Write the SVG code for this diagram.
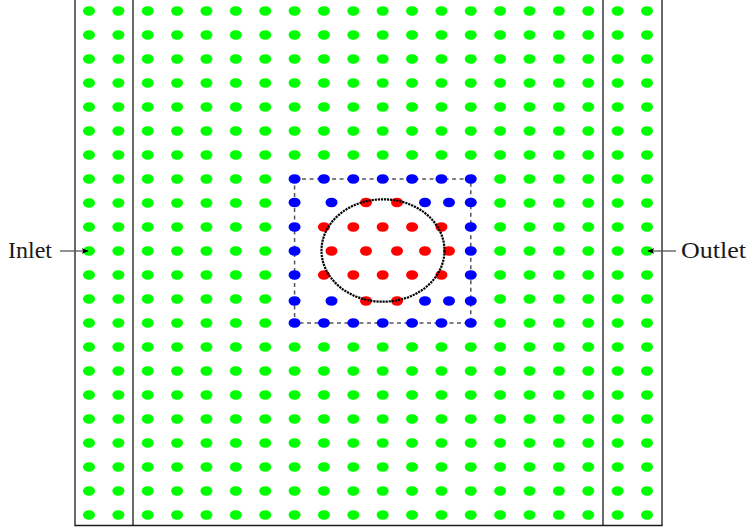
<svg xmlns="http://www.w3.org/2000/svg" xmlns:xlink="http://www.w3.org/1999/xlink" width="748" height="529" viewBox="0 0 748 529">
<style>
.g{fill:#00ff00}
.b{fill:#0000ff}
.r{fill:#ff0000}
.frame{stroke:#1a1a1a;stroke-width:1.3;fill:none}
.lbl{font-family:"Liberation Serif","DejaVu Serif",serif;font-size:23px;fill:#1a1a1a}
.arr{stroke:#555;stroke-width:1.3;fill:none}
</style>
<defs>
<ellipse id="d" rx="6" ry="4.8"/>
<marker id="ah" viewBox="0 0 10 10" refX="9" refY="5" markerWidth="7" markerHeight="7" markerUnits="userSpaceOnUse" orient="auto">
<path d="M0,1 L10,5 L0,9 L2.5,5 Z" fill="#000"/>
</marker>
<g id="row" class="g">
<use href="#d" x="89"/><use href="#d" x="118.37"/><use href="#d" x="147.74"/><use href="#d" x="177.1"/><use href="#d" x="206.47"/><use href="#d" x="235.84"/><use href="#d" x="265.21"/><use href="#d" x="294.58"/><use href="#d" x="323.94"/><use href="#d" x="353.31"/><use href="#d" x="382.68"/><use href="#d" x="412.05"/><use href="#d" x="441.42"/><use href="#d" x="470.78"/><use href="#d" x="500.15"/><use href="#d" x="529.52"/><use href="#d" x="558.89"/><use href="#d" x="588.26"/><use href="#d" x="617.62"/><use href="#d" x="647"/>
</g>
<g id="side" class="g">
<use href="#d" x="89"/><use href="#d" x="118.37"/><use href="#d" x="147.74"/><use href="#d" x="177.1"/><use href="#d" x="206.47"/><use href="#d" x="235.84"/><use href="#d" x="265.21"/><use href="#d" x="500.15"/><use href="#d" x="529.52"/><use href="#d" x="558.89"/><use href="#d" x="588.26"/><use href="#d" x="617.62"/><use href="#d" x="647"/>
</g>
</defs>
<rect width="748" height="529" fill="#fff"/>
<g id="frame" class="frame">
<line x1="75" y1="0" x2="75" y2="525.5"/>
<line x1="133" y1="0" x2="133" y2="525.5"/>
<line x1="603" y1="0" x2="603" y2="525.5"/>
<line x1="662" y1="0" x2="662" y2="525.5"/>
<line x1="74.4" y1="525.5" x2="662.6" y2="525.5"/>
</g>
<g id="box">
<rect x="294.58" y="179" width="176.2" height="144" fill="none" stroke="#555" stroke-width="1.5" stroke-dasharray="4 3.5"/>
</g>
<g id="green-field">
<use href="#row" y="11"/><use href="#row" y="35"/><use href="#row" y="59"/><use href="#row" y="83"/><use href="#row" y="107"/><use href="#row" y="131"/><use href="#row" y="155"/>
<use href="#side" y="179"/><use href="#side" y="203"/><use href="#side" y="227"/><use href="#side" y="251"/><use href="#side" y="275"/><use href="#side" y="299"/><use href="#side" y="323"/>
<use href="#row" y="347"/><use href="#row" y="371"/><use href="#row" y="395"/><use href="#row" y="419"/><use href="#row" y="443"/><use href="#row" y="467"/><use href="#row" y="491"/><use href="#row" y="515"/>
</g>
<g id="blue-boundary" class="b">
<use href="#d" x="294.58" y="179"/><use href="#d" x="323.94" y="179"/><use href="#d" x="353.31" y="179"/><use href="#d" x="382.68" y="179"/><use href="#d" x="412.05" y="179"/><use href="#d" x="441.42" y="179"/><use href="#d" x="470.78" y="179"/>
<use href="#d" x="294.58" y="202.5"/><use href="#d" x="331.5" y="202.5"/><use href="#d" x="425" y="202.5"/><use href="#d" x="449" y="202.5"/><use href="#d" x="470.78" y="202.5"/>
<use href="#d" x="294.58" y="227"/><use href="#d" x="470.78" y="227"/>
<use href="#d" x="294.58" y="251"/><use href="#d" x="470.78" y="251"/>
<use href="#d" x="294.58" y="275"/><use href="#d" x="470.78" y="275"/>
<use href="#d" x="294.58" y="301"/><use href="#d" x="331.5" y="301"/><use href="#d" x="425" y="301"/><use href="#d" x="449" y="301"/><use href="#d" x="470.78" y="301"/>
<use href="#d" x="294.58" y="323"/><use href="#d" x="323.94" y="323"/><use href="#d" x="353.31" y="323"/><use href="#d" x="382.68" y="323"/><use href="#d" x="412.05" y="323"/><use href="#d" x="441.42" y="323"/><use href="#d" x="470.78" y="323"/>
</g>
<g id="red-body" class="r">
<use href="#d" x="366" y="202.5"/><use href="#d" x="397" y="202.5"/>
<use href="#d" x="323.94" y="227"/><use href="#d" x="353.31" y="227"/><use href="#d" x="382.68" y="227"/><use href="#d" x="412.05" y="227"/><use href="#d" x="441.42" y="227"/>
<use href="#d" x="331.5" y="251"/><use href="#d" x="366" y="251"/><use href="#d" x="397" y="251"/><use href="#d" x="425" y="251"/><use href="#d" x="449" y="251"/>
<use href="#d" x="323.94" y="275"/><use href="#d" x="353.31" y="275"/><use href="#d" x="382.68" y="275"/><use href="#d" x="412.05" y="275"/><use href="#d" x="441.42" y="275"/>
<use href="#d" x="366" y="301"/><use href="#d" x="397" y="301"/>
</g>
<g id="cylinder">
<ellipse cx="383" cy="250.5" rx="61.5" ry="51.2" fill="none" stroke="#000" stroke-width="2.2" stroke-dasharray="2.2 0.9"/>
</g>
<g id="connectors">
<line class="arr" x1="60" y1="251" x2="88" y2="251" marker-end="url(#ah)"/>
<line class="arr" x1="676" y1="251" x2="648" y2="251" marker-end="url(#ah)"/>
</g>
<g id="inlet-label"><text class="lbl" x="8" y="257.5" textLength="44" lengthAdjust="spacingAndGlyphs">Inlet</text></g>
<g id="outlet-label"><text class="lbl" x="681" y="257.5" textLength="65" lengthAdjust="spacingAndGlyphs">Outlet</text></g>
</svg>
